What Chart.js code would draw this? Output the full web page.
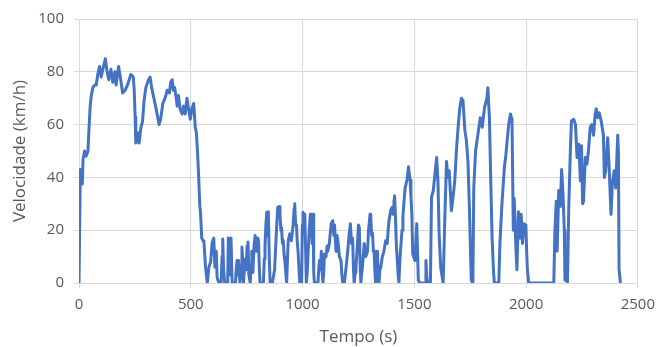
<!DOCTYPE html>
<html>
<head>
<meta charset="utf-8">
<script src="https://cdn.jsdelivr.net/npm/chart.js@4/dist/chart.umd.min.js"></script>
<style>
  html, body { margin: 0; padding: 0; background: #ffffff; }
  #wrap { width: 663px; height: 347px; position: relative; }
</style>
</head>
<body>
<div id="wrap"><canvas id="c" width="663" height="347"></canvas></div>
<script>
// Drive-cycle speed trace: time (s) and speed (km/h)
const tempo = [
  0, 3, 6, 10, 15, 18, 25, 32, 40, 45, 50, 55, 62, 70, 77, 84, 92, 99, 107, 118,
  124, 133, 143, 151, 161, 166, 177, 185, 195, 206, 217, 232, 243, 247, 251, 254, 261, 269, 277, 284,
  291, 299, 311, 318, 325, 335, 345, 358, 365, 375, 385, 395, 405, 410, 417, 422, 428, 435, 439, 445,
  452, 461, 468, 475, 483, 490, 498, 505, 513, 517, 520, 525, 530, 535, 540, 544, 549, 555, 559, 566,
  574, 581, 589, 596, 603, 608, 611, 614, 618, 626, 636, 640, 643, 647, 652, 665, 668, 672, 676, 680,
  685, 700, 704, 707, 711, 714, 720, 725, 729, 733, 736, 742, 748, 752, 756, 760, 766, 770, 773, 778,
  783, 788, 794, 800, 803, 807, 810, 825, 829, 832, 836, 840, 843, 847, 851, 855, 865, 875, 880, 884,
  889, 892, 896, 899, 903, 906, 910, 914, 918, 921, 925, 929, 933, 936, 943, 950, 958, 962, 965, 969,
  973, 976, 980, 985, 988, 996, 999, 1002, 1006, 1010, 1014, 1017, 1021, 1025, 1030, 1035, 1039, 1043, 1047, 1050,
  1053, 1069, 1073, 1076, 1080, 1084, 1088, 1091, 1095, 1098, 1105, 1110, 1113, 1120, 1128, 1135, 1140, 1143, 1150, 1154,
  1158, 1165, 1172, 1176, 1180, 1187, 1195, 1202, 1208, 1214, 1219, 1224, 1228, 1231, 1236, 1239, 1246, 1250, 1254, 1258,
  1261, 1265, 1268, 1276, 1283, 1291, 1295, 1298, 1302, 1305, 1309, 1313, 1317, 1320, 1324, 1327, 1331, 1335, 1338, 1342,
  1346, 1350, 1357, 1364, 1368, 1372, 1379, 1383, 1387, 1394, 1401, 1405, 1409, 1412, 1416, 1420, 1424, 1428, 1431, 1434,
  1438, 1445, 1449, 1453, 1459, 1467, 1474, 1481, 1485, 1489, 1493, 1503, 1511, 1518, 1525, 1548, 1552, 1556, 1560, 1572,
  1577, 1585, 1592, 1600, 1606, 1611, 1618, 1629, 1637, 1644, 1650, 1656, 1666, 1674, 1681, 1689, 1696, 1703, 1711, 1718,
  1726, 1733, 1740, 1747, 1752, 1755, 1762, 1766, 1774, 1784, 1795, 1804, 1814, 1825, 1829, 1836, 1841, 1848, 1854, 1858,
  1878, 1883, 1892, 1903, 1910, 1922, 1930, 1937, 1940, 1943, 1947, 1955, 1959, 1966, 1972, 1978, 1984, 1991, 1999, 2003,
  2006, 2012, 2124, 2129, 2135, 2139, 2146, 2153, 2159, 2165, 2171, 2174, 2180, 2185, 2191, 2198, 2203, 2213, 2221, 2228,
  2236, 2243, 2248, 2253, 2257, 2265, 2272, 2279, 2287, 2294, 2302, 2309, 2314, 2321, 2327, 2336, 2346, 2350, 2356, 2365,
  2371, 2380, 2386, 2394, 2401, 2410, 2413, 2416, 2422
];

const velocidade = [
  0, 0, 43, 42, 37.5, 47, 50, 48, 50, 59, 67, 71, 74, 75, 75, 79, 82, 78, 81, 85,
  81, 77, 81, 76, 80, 75, 82, 78, 72, 73, 75, 79, 78, 73, 63, 53, 57, 53, 59, 61,
  69, 74, 77, 78, 74, 70, 66, 60, 62, 68, 70, 73, 72, 76, 77, 73, 74, 70, 67, 71,
  66, 64, 67, 64, 70, 66, 62, 66, 68, 63, 59, 57, 50, 41, 30, 26, 17, 16, 15.5, 6,
  0, 6, 8, 15.5, 17, 6, 10, 12, 2, 0, 0, 10, 16.7, 5, 0, 0, 17, 3, 8, 17,
  0, 0, 6, 8.5, 3, 8.5, 0, 5, 13.6, 6, 0, 9, 5, 14, 15.5, 3, 0, 7, 12, 4,
  14, 18, 12, 17, 16, 5, 0, 0, 9, 13.6, 22, 26.8, 18, 27, 10, 0, 0, 5, 14, 21,
  28.7, 26, 29, 26, 20, 21, 15, 16, 10, 8.5, 4, 0, 10, 16, 18.6, 16, 22, 28, 30, 22,
  22, 16, 12, 4, 0, 0, 22, 26.8, 22, 26, 12, 0, 4, 12, 20, 26, 26, 15, 26, 4,
  0, 0, 6, 8.5, 5, 12, 4, 0, 4, 11, 10, 14, 12, 15, 22.4, 23.6, 18, 22, 12, 18,
  16, 10, 8.5, 3, 0, 0, 6, 12, 18, 22.4, 15, 17, 5, 0, 4, 6, 15, 22, 21, 6,
  0, 4, 6, 15, 10, 12, 20, 22.4, 26, 25.5, 18, 19, 12, 12, 4, 0, 8, 12, 4, 0,
  5, 6, 10, 12, 14, 16, 15, 20, 23.6, 27.4, 28.7, 26, 31, 33, 24, 14, 8.5, 3, 0, 6,
  12, 20, 25, 30, 36, 39, 44, 39, 33, 26, 11, 8.5, 22.4, 1, 0, 0, 8.5, 2, 0, 0,
  32.5, 35, 41, 47.5, 38, 18.6, 6, 0, 26, 46, 40, 42.5, 27.4, 33, 38.7, 51, 59, 66, 70, 69,
  58, 54, 46, 27, 10, 1, 0, 36, 50, 56, 62.6, 59, 66.4, 70, 74, 62.6, 42.5, 17, 5, 0,
  0, 15, 30, 43.8, 48.8, 60, 64, 62, 40, 20, 32, 12, 5, 27, 17, 26, 15, 22.4, 22, 11,
  5, 0, 0, 20, 31, 12, 35, 29, 43, 34, 20, 1, 5, 0, 29, 50, 61.4, 62, 60, 47.5,
  52.6, 38.7, 52, 30, 31, 47.5, 45, 50, 59, 60, 56, 64, 66, 62.6, 64.5, 61.4, 56, 40, 42.5, 55,
  45, 26, 37.5, 42.5, 36, 56, 50, 5, 0
];

const xTicks = [0, 500, 1000, 1500, 2000, 2500];
const yTicks = [0, 20, 40, 60, 80, 100];

const pontos = tempo.map((t, i) => ({ x: t, y: velocidade[i] }));

const textColor = '#595959';
const gridColor = '#d9d9d9';
const fontFamily = "'Open Sans', 'Liberation Sans', sans-serif";

new Chart(document.getElementById('c'), {
  type: 'line',
  data: {
    datasets: [{
      data: pontos,
      borderColor: '#4472C4',
      borderWidth: 3,
      borderJoinStyle: 'round',
      pointRadius: 0,
      tension: 0,
      fill: false
    }]
  },
  options: {
    responsive: false,
    animation: false,
    devicePixelRatio: 1,
    layout: { padding: { left: 10, right: 20, top: 18, bottom: 0 } },
    plugins: { legend: { display: false }, tooltip: { enabled: false } },
    scales: {
      x: {
        type: 'linear',
        min: xTicks[0],
        max: xTicks[xTicks.length - 1],
        afterBuildTicks: s => { s.ticks = xTicks.map(v => ({ value: v })); },
        afterFit: s => { s.height = 64; },
        grid: { color: gridColor, lineWidth: 1, tickLength: 5, drawTicks: true },
        border: { color: gridColor },
        ticks: { color: textColor, font: { family: fontFamily, size: 15 }, padding: 8, maxRotation: 0,
                 callback: v => String(v) },
        title: { display: true, text: 'Tempo (s)', color: textColor, font: { family: fontFamily, size: 17 }, padding: { top: 4, bottom: 0 } }
      },
      y: {
        min: yTicks[0],
        max: yTicks[yTicks.length - 1],
        afterBuildTicks: s => { s.ticks = yTicks.map(v => ({ value: v })); },
        afterFit: s => { s.width = 69; },
        grid: { color: gridColor, lineWidth: 1, tickLength: 5, drawTicks: true },
        border: { color: gridColor },
        ticks: { color: textColor, font: { family: fontFamily, size: 15 }, padding: 10,
                 callback: v => String(v) },
        title: { display: true, text: 'Velocidade (km/h)', color: textColor, font: { family: fontFamily, size: 17 }, padding: { top: 0, bottom: 4 } }
      }
    }
  }
});
</script>
</body>
</html>
